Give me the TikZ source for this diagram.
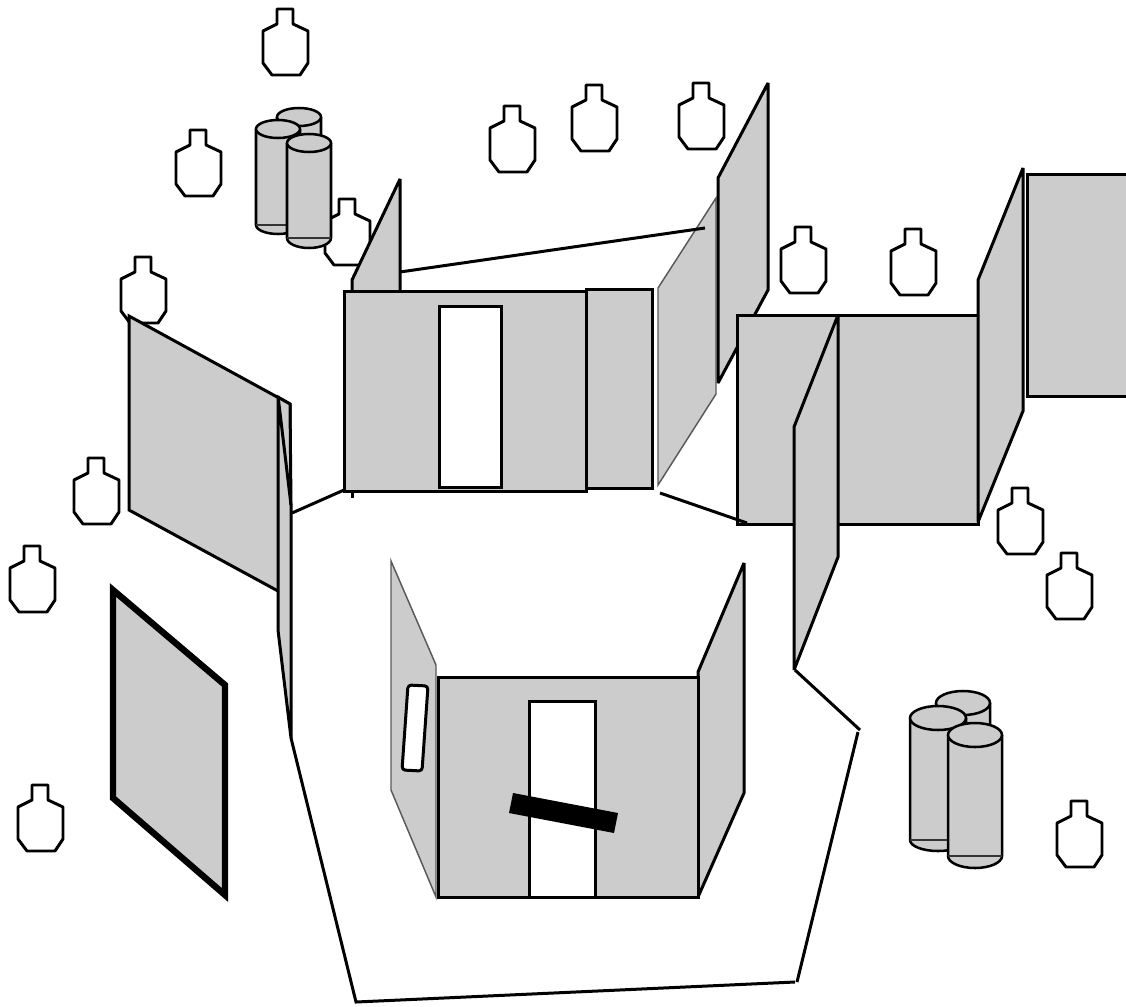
\documentclass[tikz,border=0pt]{standalone}
\definecolor{pgray}{RGB}{204,204,204}
\tikzset{
  x=0.75pt,y=-0.75pt,
  panel/.style={draw=black,fill=pgray,line width=2.25pt,line join=miter,miter limit=4},
  thinpanel/.style={draw=black!65,fill=pgray,line width=1.1pt},
  wire/.style={draw=black,line width=2.25pt},
  hole/.style={draw=black,fill=white,line width=2.25pt},
  tgt/.pic={\draw[black,fill=white,line width=2.2pt,line join=round]
    (14,0)--(30,0)--(30,15)--(45,22)--(45,54)--(37,66)--(9,66)--(0,54)--(0,22)--(14,15)--cycle;},
  cylpen/.style={draw=black,line width=1.9pt}
}
\newcommand{\cyl}[6]{% left,right,cy,ry,liney,bottom
  \pgfmathsetmacro{\cx}{(#1+#2)/2}\pgfmathsetmacro{\rx}{(#2-#1)/2}
  \pgfmathsetmacro{\dy}{#6-#5}
  \fill[pgray] (#1,#3) -- (#1,#5) arc[start angle=180,end angle=360,x radius=\rx,y radius=-\dy] -- (#2,#3) -- cycle;
  \draw[cylpen] (#1,#3) -- (#1,#5) arc[start angle=180,end angle=360,x radius=\rx,y radius=-\dy] -- (#2,#3);
  \draw[black!80,line width=1.1pt] (#1,#5) -- (#2,#5);
  \draw[cylpen,fill=pgray] (\cx,#3) ellipse[x radius=\rx,y radius=#4];
}
\begin{document}
\begin{tikzpicture}
\useasboundingbox (0,0) rectangle (1126,1006);
% targets
\foreach \p in {(263,9),(176,130),(325,199),(490,106),(572,85),(679,83),(781,227),(891,229),(121,257),(74,458),(10,546),(18,785),(998,488),(1047,553),(1057,801)}
  \pic at \p {tgt};
% upper cylinders
\cyl{277}{321}{117}{9}{150}{160}
\cyl{256}{300}{129}{9}{225}{234}
\cyl{287}{331}{143}{9}{238}{248}
% back panels and wires
\draw[wire] (352,491) -- (352,498);
\draw[panel] (352,291) -- (352,280) -- (400,179) -- (400,291);
\draw[thinpanel] (658,288) -- (716,198) -- (716,394) -- (658,485) -- cycle;
\draw[wire] (400,272) -- (705,228);
\draw[panel] (718,178) -- (768,83) -- (768,290) -- (718,383) -- cycle;
% left panels
\draw[panel] (129,316) -- (290,404) -- (290,600) -- (278,591) -- (129,510) -- cycle;
\fill[pgray] (278,396) -- (291,404) -- (292,738) -- (278,630) -- cycle;
\draw[wire,line join=round] (278,396) -- (278,630) -- (291,738) -- (291,505) -- (278,396);
\draw[wire,line join=round] (276,396) -- (290,404) -- (291,505);
\draw[wire] (292,513) -- (344,490);
% framed panel
\draw[draw=black,fill=pgray,line width=4.8pt,line join=miter] (113,590) -- (225,685) -- (225,895) -- (113,798) -- cycle;
% central block
\draw[panel] (586,289) rectangle (652,488);
\draw[panel] (344,291) rectangle (586,491);
\draw[hole] (439,306) rectangle (501,487);
% right block
\draw[panel] (737,315) rectangle (978,524);
\draw[wire] (660,493) -- (747,523);
\draw[panel] (794,427) -- (838,315) -- (838,557) -- (794,670) -- cycle;
\draw[panel] (978,280) -- (1023,168) -- (1023,411) -- (978,522) -- cycle;
\draw[panel] (1027,174) -- (1128,174) -- (1128,396) -- (1027,396) -- cycle;
% perimeter
\draw[wire] (795,670) -- (860,730);
\draw[wire] (858,732) -- (797,982);
\draw[wire] (795,982) -- (356,1002) -- (291,738);
% lower block
\draw[thinpanel] (391,561) -- (436,665) -- (436,897) -- (391,790) -- cycle;
\draw[hole,rounded corners=2.5pt] (408,685) -- (428,686) -- (422,771) -- (402,770) -- cycle;
\draw[panel] (698,672) -- (744,563) -- (744,793) -- (698,897) -- cycle;
\draw[panel] (438,677) rectangle (698,897);
\draw[hole] (529,701) rectangle (595,897);
\fill[black] (513,793) -- (618,813) -- (614,833) -- (509,813) -- cycle;
% right cylinders
\cyl{936}{990}{703}{12}{740}{750}
\cyl{910}{966}{718}{12}{840}{851}
\cyl{948}{1002}{735}{12}{856}{868}
\end{tikzpicture}
\end{document}
